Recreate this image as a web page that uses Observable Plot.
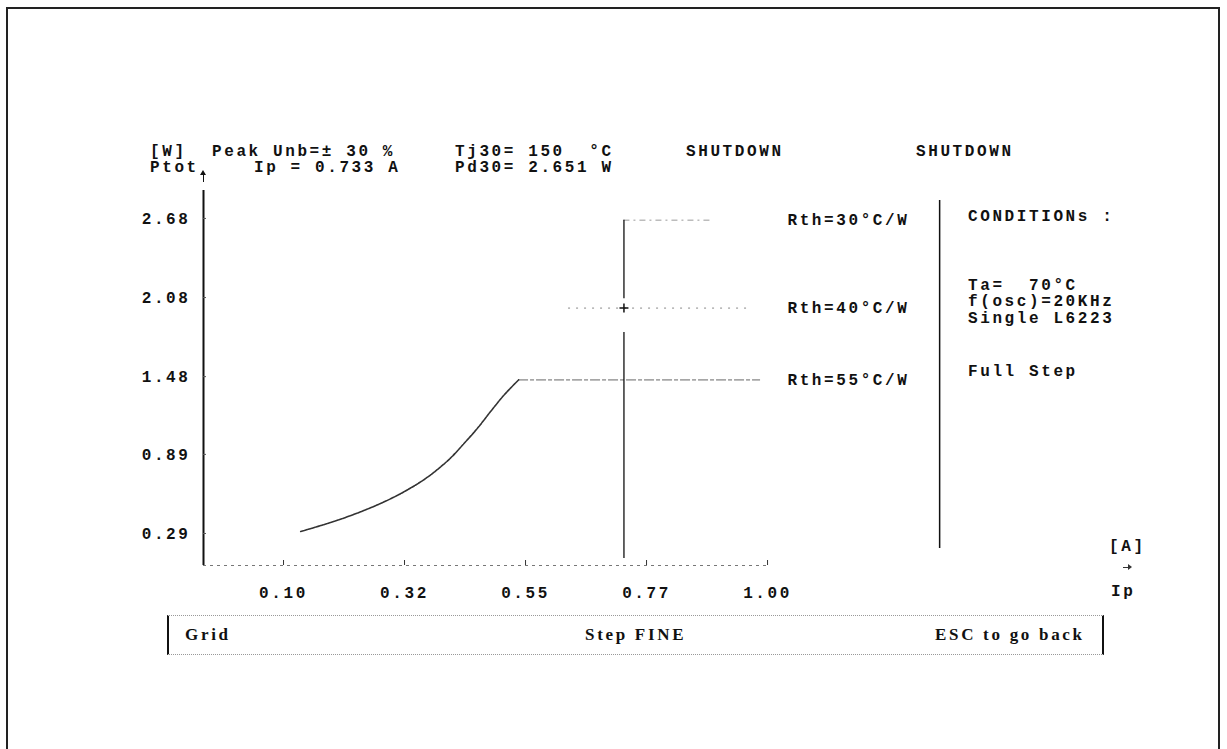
<!DOCTYPE html>
<html>
<head>
<meta charset="utf-8">
<script src="https://cdn.jsdelivr.net/npm/d3@7"></script>
<script src="https://cdn.jsdelivr.net/npm/@observablehq/plot@0.6"></script>
<style>
  html, body { margin: 0; padding: 0; background: #fff; overflow: hidden; }
  #page { position: relative; width: 1227px; height: 749px; overflow: hidden; background: #fff; }
  #frame { position: absolute; left: 6px; top: 7px; width: 1214px; height: 800px; border: 2px solid #222; box-sizing: border-box; }
  #chart { position: absolute; left: 0; top: 0; }
  .t { position: absolute; font-family: "Liberation Mono", monospace; font-weight: bold; font-size: 16px;
       letter-spacing: 2.6px; line-height: 14px; color: #111; white-space: pre; }
  .s { position: absolute; font-family: "Liberation Serif", serif; font-weight: bold; font-size: 17px;
       letter-spacing: 2.7px; line-height: 14px; color: #111; white-space: pre; }
  #footer { position: absolute; left: 167px; top: 615px; width: 937px; height: 40px; box-sizing: border-box;
            border-left: 2px solid #111; border-right: 2px solid #111;
            border-top: 1px dotted #999; border-bottom: 1px dotted #999; }
  .vline { position: absolute; width: 1px; background: #111; }
  .tri-up { position: absolute; width: 0; height: 0; border-left: 3px solid transparent; border-right: 3px solid transparent; border-bottom: 5px solid #111; }
  .hline { position: absolute; height: 1px; background: #333; }
  .tri-right { position: absolute; width: 0; height: 0; border-top: 3px solid transparent; border-bottom: 3px solid transparent; border-left: 4px solid #333; }
</style>
</head>
<body>
<div id="page">
  <div id="frame"></div>
  <div id="chart"></div>

  <!-- header -->
  <div class="t" style="left:150px; top:145px">[W]</div>
  <div class="t" style="left:150px; top:161px">Ptot</div>
  <div class="vline" style="left:203px; top:173px; height:9px"></div>
  <div class="tri-up" style="left:200px; top:170px"></div>
  <div class="t" style="left:212px; top:145px">Peak Unb=± 30 %</div>
  <div class="t" style="left:254px; top:161px">Ip = 0.733 A</div>
  <div class="t" style="left:455px; top:145px">Tj30= 150  °C</div>
  <div class="t" style="left:455px; top:161px">Pd30= 2.651 W</div>
  <div class="t" style="left:686px; top:145px">SHUTDOWN</div>
  <div class="t" style="left:916px; top:145px">SHUTDOWN</div>

  <!-- conditions panel -->
  <div class="t" style="left:968px; top:210px">CONDITIONs :</div>
  <div class="t" style="left:968px; top:279px">Ta=  70°C</div>
  <div class="t" style="left:968px; top:295px">f(osc)=20KHz</div>
  <div class="t" style="left:968px; top:312px">Single L6223</div>
  <div class="t" style="left:968px; top:365px">Full Step</div>

  <!-- x axis unit -->
  <div class="t" style="left:1109px; top:540px">[A]</div>
  <div class="hline" style="left:1123px; top:567px; width:6px"></div>
  <div class="tri-right" style="left:1128px; top:564px"></div>
  <div class="t" style="left:1111px; top:585px">Ip</div>

  <!-- footer bar -->
  <div id="footer"></div>
  <div class="s" style="left:185px; top:628px">Grid</div>
  <div class="s" style="left:585px; top:628px">Step FINE</div>
  <div class="s" style="left:935px; top:628px">ESC to go back</div>
</div>

<script>
// ---- data ----
// Ptot [W] versus peak current Ip [A]
const curveIp   = [0.132, 0.200, 0.256, 0.300, 0.330, 0.360, 0.380, 0.410, 0.435, 0.460, 0.485, 0.510, 0.537];
const curvePtot = [0.305, 0.390, 0.475, 0.555, 0.620, 0.695, 0.755, 0.860, 0.970, 1.085, 1.215, 1.340, 1.455];

// power limits for each thermal resistance (Ptot = 80 / Rth)
const rthLabels = ["Rth=30°C/W", "Rth=40°C/W", "Rth=55°C/W"];
const rthPtot   = [2.667, 2.000, 1.455];
const rthIpFrom = [0.733, 0.630, 0.537];
const rthIpTo   = [0.898, 0.968, 0.987];

// selected peak current marker
const ipSelected = 0.733;
const ipLineFrom = [2.070, 0.100];
const ipLineTo   = [2.667, 1.815];

// panel separator
const separatorIp = 1.32;

// ticks
const xTicks = [0.10, 0.325, 0.55, 0.775, 1.00];
const xTickLabels = ["0.10", "0.32", "0.55", "0.77", "1.00"];
const yTicks = [0.29, 0.89, 1.48, 2.08, 2.68];
const yTickLabels = ["0.29", "0.89", "1.48", "2.08", "2.68"];

// ---- build ----
const xDomain = [-0.0488, 1.6563];
const yDomain = [0.0472, 2.892];

const curve = curveIp.map((ip, i) => ({ip, p: curvePtot[i]}));
const rth = rthLabels.map((label, i) => ({label, p: rthPtot[i], x1: rthIpFrom[i], x2: rthIpTo[i]}));
const ipSegs = ipLineFrom.map((y1, i) => ({x: ipSelected, y1, y2: ipLineTo[i]}));
const xLab = new Map(xTicks.map((t, i) => [t, xTickLabels[i]]));
const yLab = new Map(yTicks.map((t, i) => [t, yTickLabels[i]]));

const font = {fontFamily: "Liberation Mono", fontWeight: "bold", fontSize: 16};

const chart = Plot.plot({
  width: 1227,
  height: 749,
  marginLeft: 203,
  marginRight: 107,
  marginTop: 190,
  marginBottom: 184,
  style: {background: "transparent", color: "#111", letterSpacing: "2.6px", overflow: "visible"},
  x: {domain: xDomain, axis: null},
  y: {domain: yDomain, axis: null},
  marks: [
    // x baseline (faint dotted)
    Plot.ruleY([yDomain[0]], {x1: xDomain[0], x2: 1.005, stroke: "#777", strokeDasharray: "3,4", strokeWidth: 1}),
    // y axis line
    Plot.ruleX([xDomain[0]], {y1: yDomain[0], y2: yDomain[1], stroke: "#111", strokeWidth: 2}),
    // tick marks (inward)
    Plot.axisX(xTicks, {anchor: "bottom", tickSize: -5, tickFormat: () => "", stroke: "#333"}),
    Plot.axisY(yTicks, {anchor: "left", tickSize: -3, tickFormat: () => "", stroke: "#555"}),
    // tick labels
    Plot.axisX(xTicks, {anchor: "bottom", tickSize: 0, tickPadding: 21, tickFormat: d => xLab.get(d), ...font, fill: "#111"}),
    Plot.axisY(yTicks, {anchor: "left", tickSize: 0, tickPadding: 13, tickFormat: d => yLab.get(d), ...font, fill: "#111"}),
    // thermal limit lines
    Plot.ruleY([rth[0]], {y: "p", x1: "x1", x2: "x2", stroke: "#999", strokeWidth: 1, strokeDasharray: "6,4,2,4"}),
    Plot.ruleY([rth[1]], {y: "p", x1: "x1", x2: "x2", stroke: "#888", strokeWidth: 1, strokeDasharray: "2,6"}),
    Plot.ruleY([rth[2]], {y: "p", x1: "x1", x2: "x2", stroke: "#666", strokeWidth: 1, strokeDasharray: "10,2,4,2"}),
    Plot.text(rth, {x: 1.037, y: "p", text: "label", textAnchor: "start", ...font, fill: "#111"}),
    // dissipation curve
    Plot.line(curve, {x: "ip", y: "p", curve: "catmull-rom", stroke: "#333", strokeWidth: 1.6, strokeDasharray: "3,1"}),
    // selected Ip vertical line
    Plot.ruleX(ipSegs, {x: "x", y1: "y1", y2: "y2", stroke: "#111", strokeWidth: 1.3}),
    Plot.dot([{x: ipSelected, y: rthPtot[1]}], {x: "x", y: "y", symbol: "plus", r: 3, stroke: "#111"}),
    // panel separator
    Plot.ruleX([separatorIp], {y1: 0.176, y2: 2.816, stroke: "#111", strokeWidth: 1.5})
  ]
});
document.getElementById("chart").appendChild(chart);
</script>
</body>
</html>
